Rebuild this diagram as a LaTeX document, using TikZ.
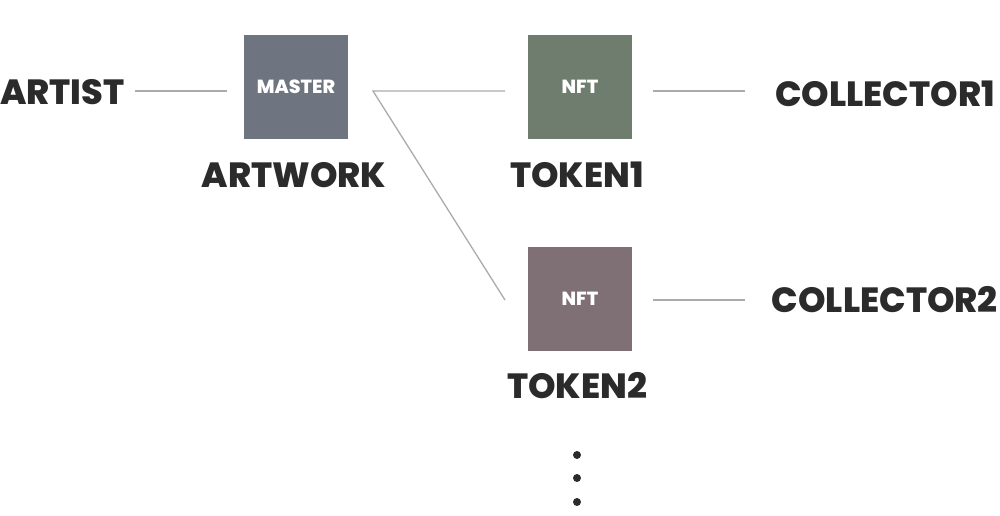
\documentclass[tikz,border=0pt]{standalone}
\usepackage{fontspec}
\setmainfont{Poppins}[BoldFont={* ExtraBold}]
\definecolor{txt}{HTML}{2B2B2B}
\definecolor{ln}{HTML}{ABABAB}
\definecolor{cmaster}{HTML}{6F7580}
\definecolor{cnft1}{HTML}{6F7D6F}
\definecolor{cnft2}{HTML}{7F7075}
\tikzset{
  box/.style={minimum width=104pt, minimum height=104pt, inner sep=0pt, text=white, font=\bfseries\fontsize{19}{19}\selectfont},
  lbl/.style={text=txt, inner sep=0pt, font=\bfseries\fontsize{35}{35}\selectfont},
  conn/.style={draw=ln, line width=1.3pt},
  dotn/.style={circle, fill=txt, minimum size=8pt, inner sep=0pt}
}
\begin{document}
\begin{tikzpicture}[x=1pt,y=-1pt]
\useasboundingbox (0,0) rectangle (1000,516);
\node[box, fill=cmaster] (master) at (296,87) {MASTER};
\node[box, fill=cnft1] (nft1) at (580,87) {NFT};
\node[box, fill=cnft2] (nft2) at (580,299) {NFT};
\node[lbl, anchor=west] (artist) at (0,92) {ARTIST};
\node[lbl] (artwork) at (294,175) {ARTWORK};
\node[lbl] (token1) at (577,175) {TOKEN1};
\node[lbl] (token2) at (577,386) {TOKEN2};
\node[lbl, anchor=east] (coll1) at (995,94) {COLLECTOR1};
\node[lbl, anchor=east] (coll2) at (998,300) {COLLECTOR2};
\node[dotn] (d1) at (577,455) {};
\node[dotn] (d2) at (577,478) {};
\node[dotn] (d3) at (577,502) {};
\coordinate (a1) at (135,91);
\coordinate (a2) at (227,91);
\coordinate (m1) at (373,91);
\coordinate (t1) at (505,91);
\coordinate (t2) at (505,300);
\coordinate (c1a) at (653,91);
\coordinate (c1b) at (745,91);
\coordinate (c2a) at (653,300);
\coordinate (c2b) at (745,300);
\draw[conn] (a1) -- (a2);
\draw[conn] (t1) -- (m1) -- (t2);
\draw[conn] (c1a) -- (c1b);
\draw[conn] (c2a) -- (c2b);
\end{tikzpicture}
\end{document}
